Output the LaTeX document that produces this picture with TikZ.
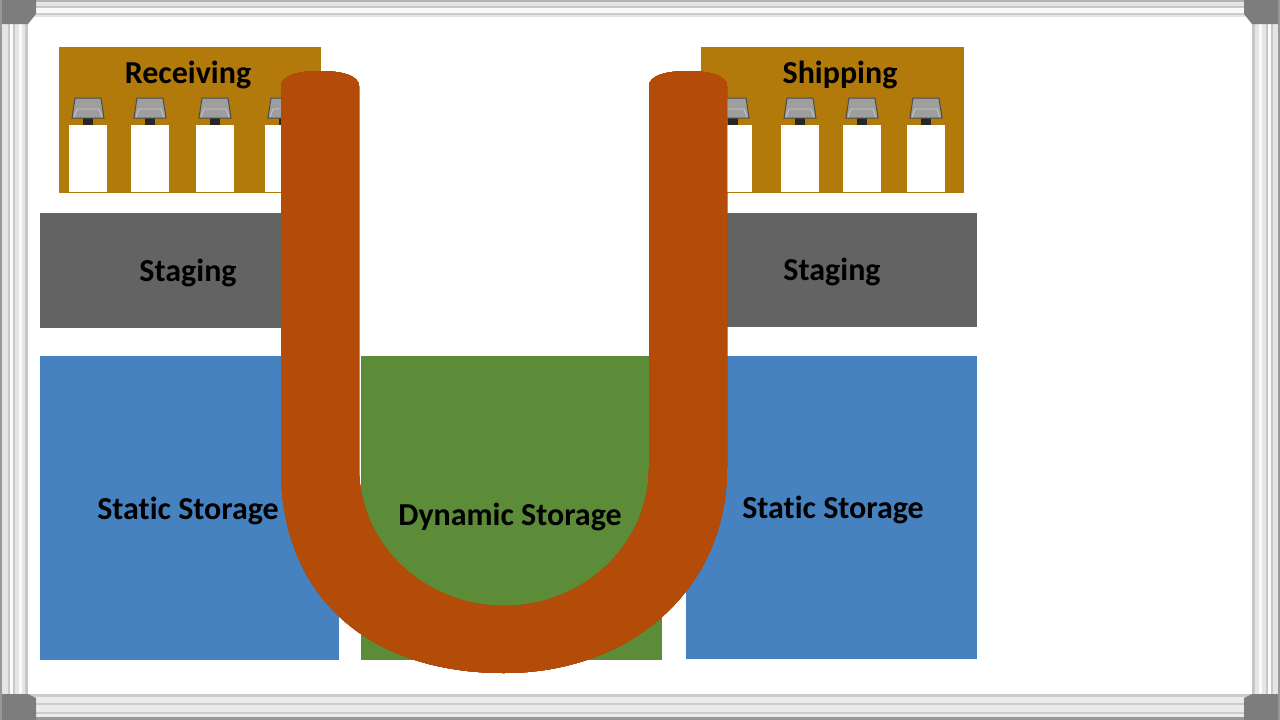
\documentclass[tikz,border=0pt]{standalone}
\usepackage{fontspec}
\setmainfont{Carlito}[Ligatures=NoCommon]
\definecolor{dockgold}{RGB}{178,122,10}
\definecolor{stagegray}{RGB}{99,99,99}
\definecolor{staticblue}{RGB}{70,130,192}
\definecolor{dynamicgreen}{RGB}{92,140,55}
\definecolor{flowrust}{RGB}{178,76,8}
\definecolor{framedark}{RGB}{125,125,125}
\tikzstyle{area}=[anchor=north west,inner sep=0pt,outer sep=0pt]
\tikzstyle{label}=[inner sep=0pt,font=\fontsize{32}{32}\selectfont\bfseries,text=black]
\tikzstyle{door}=[fill=white,draw=none]
\newcommand{\dockdoor}[1]{%
  \fill[black!85] (#1-5,118) rectangle (#1+5,126);
  \fill[black!38,draw=black!70,line width=1pt] (#1-13,98) -- (#1+13,98) -- (#1+16,118) -- (#1-16,118) -- cycle;
  \draw[black!22,line width=.8pt] (#1-11,109) -- (#1+11,109) (#1-11,109) -- (#1-14,117) (#1+11,109) -- (#1+14,117);
  \fill[door] (#1-19,125) rectangle (#1+19,192);
}
\begin{document}
\begin{tikzpicture}[x=1pt,y=-1pt]
	\useasboundingbox (0,0) rectangle (1280,720);
	\fill[white] (0,0) rectangle (1280,720);
	% whiteboard frame
	\foreach \y/\h/\c in {0/17/black!10, 0/2/black!30, 6/2/black!22, 8/5/black!2, 13/2/black!20,
		694/26/black!8, 694/3/black!20, 703/2/black!20, 712/2/black!20, 717/3/black!40}
		\fill[\c] (0,\y) rectangle (1280,\y+\h);
	\foreach \x/\w/\c in {0/28/black!10, 0/2/black!40, 8/2/black!22, 10/3/black!2, 13/2/black!22, 19/3/black!2, 25/3/black!22,
		1252/28/black!10, 1252/3/black!22, 1259/3/black!2, 1266/2/black!22, 1268/3/black!2, 1271/2/black!22, 1278/2/black!40}
		\fill[\c] (\x,0) rectangle (\x+\w,720);
	\fill[white] (28,17) rectangle (1252,694);
	\fill[framedark] (2,0) -- (36,0) -- (36,14) -- (28,24) -- (2,24) -- cycle;
	\fill[framedark] (1278,0) -- (1244,0) -- (1244,14) -- (1252,24) -- (1278,24) -- cycle;
	\fill[framedark] (2,720) -- (36,720) -- (36,698) -- (28,694) -- (2,694) -- cycle;
	\fill[framedark] (1278,720) -- (1244,720) -- (1244,698) -- (1252,694) -- (1278,694) -- cycle;
	% areas
	\node[area,fill=dockgold,minimum width=262pt,minimum height=146pt] (receiving) at (59,47) {};
	\node[area,fill=dockgold,minimum width=263pt,minimum height=146pt] (shipping) at (701,47) {};
	\node[area,fill=stagegray,minimum width=299pt,minimum height=115pt] (stagingleft) at (40,213) {};
	\node[area,fill=stagegray,minimum width=290pt,minimum height=114pt] (stagingright) at (687,213) {};
	\node[area,fill=staticblue,minimum width=299pt,minimum height=304pt] (staticleft) at (40,356) {};
	\node[area,fill=staticblue,minimum width=291pt,minimum height=303pt] (staticright) at (686,356) {};
	\node[area,fill=dynamicgreen,minimum width=301pt,minimum height=304pt] (dynamic) at (361,356) {};
	% dock doors
	\foreach \x in {88,150,215,284,733,800,862,926}
		\dockdoor{\x}
	% flow through the building
	\fill[flowrust] (281,86) .. controls (281,75) and (300,71) .. (320,71)
		.. controls (340,71) and (359,75) .. (359,86)
		-- (359,468) .. controls (359,545) and (425,606) .. (504,606)
		.. controls (583,606) and (649,545) .. (649,468)
		-- (649,86) .. controls (649,75) and (668,71) .. (688,71)
		.. controls (708,71) and (727,75) .. (727,86)
		-- (727,468) .. controls (727,590) and (630,673) .. (504,673)
		.. controls (372,673) and (281,600) .. (281,468) -- cycle;
	% labels
	\node[label] (receivinglabel) at (188,75) {Receiving};
	\node[label] (shippinglabel) at (840,75) {Shipping};
	\node[label] (stagingleftlabel) at (188,273) {Staging};
	\node[label] (stagingrightlabel) at (832,272) {Staging};
	\node[label] (staticleftlabel) at (188,511) {Static Storage};
	\node[label] (staticrightlabel) at (833,510) {Static Storage};
	\node[label] (dynamiclabel) at (510,517) {Dynamic Storage};
\end{tikzpicture}
\end{document}
